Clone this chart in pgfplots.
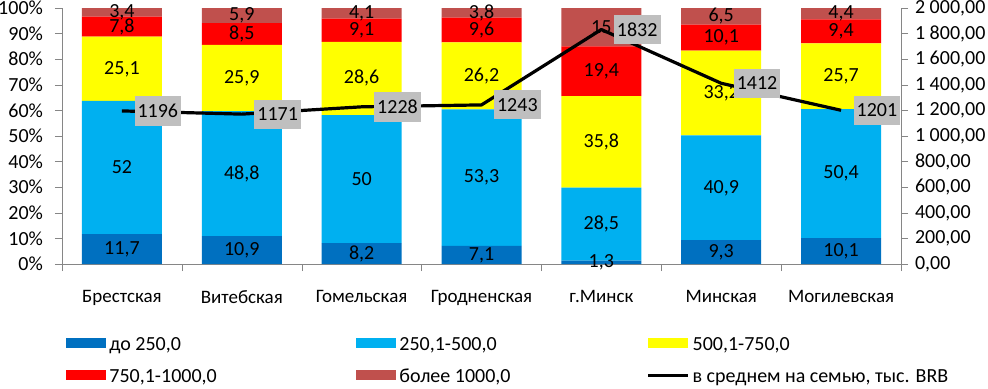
\documentclass[border=0pt]{standalone}
\usepackage{pgfplots}
\pgfplotsset{compat=1.18}
\usepackage{pgfplotstable}
\usepackage{fontspec}
\setmainfont{Carlito}
\definecolor{c1}{HTML}{0070C0}
\definecolor{c2}{HTML}{00B0F0}
\definecolor{c3}{HTML}{FFFF00}
\definecolor{c4}{HTML}{FF0000}
\definecolor{c5}{HTML}{C0504D}
\definecolor{boxgray}{HTML}{BFBFBF}
\definecolor{axgray}{HTML}{868686}
\pgfkeys{/pgf/number format/assume math mode=true}
\pgfplotstableread{
x a b c d e avg
0 11.7 52 25.1 7.8 3.4 1196
1 10.9 48.8 25.9 8.5 5.9 1171
2 8.2 50 28.6 9.1 4.1 1228
3 7.1 53.3 26.2 9.6 3.8 1243
4 1.3 28.5 35.8 19.4 15 1832
5 9.3 40.9 33.2 10.1 6.5 1412
6 10.1 50.4 25.7 9.4 4.4 1201
}\data
\pgfplotsset{
  patchlegend/.style={legend image code/.code={\fill[##1] (0pt,-2.5pt) rectangle (20pt,2.5pt);}},
  linelegend/.style={legend image code/.code={\draw[##1] (0pt,0pt) -- (20pt,0pt);}},
  base/.style={scale only axis, width=419.5pt, height=128pt, xmin=-0.5, xmax=6.5},
}
\newcommand{\lbl}[1]{\makebox[122pt][l]{\strut #1}}
\begin{document}
\begin{tikzpicture}
\begin{axis}[name=bars, base, ybar stacked, bar width=40pt, ymin=0, ymax=100,
  axis x line*=bottom, axis y line*=left,
  axis line style={draw=axgray},
  tick align=outside,
  xtick={0,1,2,3,4,5,6},
  xticklabels={Брестская,Витебская,Гомельская,Гродненская,г.Минск,Минская,Могилевская},
  major x tick style={draw=none},
  minor xtick={-0.5,0.5,1.5,2.5,3.5,4.5,5.5,6.5},
  minor x tick style={draw=axgray},
  minor tick length=3.5pt,
  major tick length=3.5pt,
  ytick={0,10,20,30,40,50,60,70,80,90,100},
  yticklabel={\pgfmathprintnumber{\tick}\%},
  y tick style={draw=axgray},
  xticklabel style={font=\fontsize{9.5}{11}\selectfont, yshift=-6pt},
  yticklabel style={font=\fontsize{10}{12}\selectfont, xshift=-2.5pt},
]
\addplot[fill=c1, draw=none] table[x=x,y=a] \data;
\addplot[fill=c2, draw=none] table[x=x,y=b] \data;
\addplot[fill=c3, draw=none] table[x=x,y=c] \data;
\addplot[fill=c4, draw=none] table[x=x,y=d] \data;
\addplot[fill=c5, draw=none] table[x=x,y=e] \data;
\end{axis}
\begin{axis}[base, ymin=0, ymax=100, hide axis, clip=false,
  nodes near coords={\pgfmathprintnumber[use comma,1000 sep={}]{\pgfplotspointmeta}},
  point meta=explicit,
  every node near coord/.append style={anchor=center, text=black, font=\fontsize{10}{12}\selectfont},
]
\addplot[draw=none, mark=none] table[x=x, y expr=\thisrow{a}/2, meta=a] \data;
\addplot[draw=none, mark=none] table[x=x, y expr=\thisrow{a}+\thisrow{b}/2, meta=b] \data;
\addplot[draw=none, mark=none] table[x=x, y expr=\thisrow{a}+\thisrow{b}+\thisrow{c}/2, meta=c] \data;
\addplot[draw=none, mark=none] table[x=x, y expr=\thisrow{a}+\thisrow{b}+\thisrow{c}+\thisrow{d}/2, meta=d] \data;
\addplot[draw=none, mark=none] table[x=x, y expr=\thisrow{a}+\thisrow{b}+\thisrow{c}+\thisrow{d}+\thisrow{e}/2, meta=e] \data;
\end{axis}
\begin{axis}[base, ymin=0, ymax=2000, clip=false,
  axis y line*=right, axis x line=none,
  axis line style={draw=axgray},
  tick align=outside, major tick length=3.5pt,
  y tick style={draw=axgray},
  ytick={0,200,400,600,800,1000,1200,1400,1600,1800,2000},
  yticklabel style={font=\fontsize{10}{12}\selectfont, /pgf/number format/.cd, fixed, fixed zerofill, precision=2, use comma, 1000 sep={\ }},
  legend columns=3,
  legend cell align=left,
  legend style={draw=none, fill=none, inner sep=0pt, at={(rel axis cs:0.0048,-0.245)}, anchor=north west,
    font=\fontsize{10}{12}\selectfont, nodes={inner xsep=1.5pt, inner ysep=3.1pt}},
]
\addlegendimage{patchlegend, fill=c1, draw=none}
\addlegendentry{\lbl{до 250,0}}
\addlegendimage{patchlegend, fill=c2, draw=none}
\addlegendentry{\lbl{250,1-500,0}}
\addlegendimage{patchlegend, fill=c3, draw=none}
\addlegendentry{\lbl{500,1-750,0}}
\addlegendimage{patchlegend, fill=c4, draw=none}
\addlegendentry{\lbl{750,1-1000,0}}
\addlegendimage{patchlegend, fill=c5, draw=none}
\addlegendentry{\lbl{более 1000,0}}
\addplot[linelegend, black, line width=1.6pt, line join=round, mark=none,
  nodes near coords, point meta=explicit symbolic,
  every node near coord/.append style={anchor=west, xshift=5.5pt, fill=boxgray, text=black,
    font=\fontsize{10}{12}\selectfont, inner xsep=1.5pt, inner ysep=4pt, draw=none}]
  table[x=x, y=avg, meta=avg] \data;
\addlegendentry{\strut в среднем на семью, тыс. BRB}
\end{axis}
\pgfresetboundingbox
\path[use as bounding box] ([xshift=-31pt,yshift=4pt]bars.north west) rectangle ([xshift=43.5pt,yshift=-62pt]bars.south east);
\end{tikzpicture}
\end{document}
